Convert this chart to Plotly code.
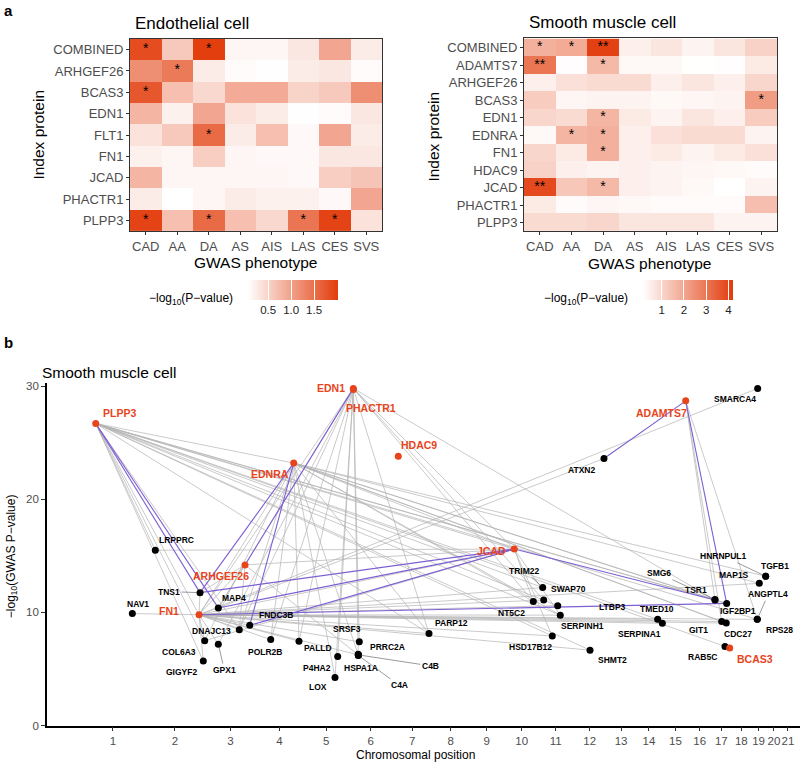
import plotly.graph_objects as go

# ---------------- Panel a data ----------------
phenotypes = ["CAD", "AA", "DA", "AS", "AIS", "LAS", "CES", "SVS"]

ec_proteins = ["COMBINED", "ARHGEF26", "BCAS3", "EDN1", "FLT1", "FN1", "JCAD", "PHACTR1", "PLPP3"]
ec_values = [
    [1.85, 0.60, 2.00, 0.15, 0.15, 0.30, 0.95, 0.25],
    [1.20, 1.40, 0.25, 0.10, 0.07, 0.25, 0.30, 0.10],
    [1.75, 0.70, 0.45, 0.90, 0.90, 0.50, 0.60, 1.20],
    [0.80, 0.20, 0.95, 0.35, 0.25, 0.07, 0.10, 0.30],
    [0.35, 0.60, 1.55, 0.25, 0.70, 0.12, 0.95, 0.25],
    [0.20, 0.15, 0.55, 0.15, 0.12, 0.12, 0.30, 0.30],
    [0.80, 0.15, 0.15, 0.15, 0.15, 0.12, 0.55, 0.65],
    [0.25, 0.06, 0.15, 0.25, 0.20, 0.20, 0.12, 0.95],
    [1.95, 0.70, 1.55, 0.70, 0.45, 1.45, 1.95, 0.35],
]
ec_stars = [
    ["*", "", "*", "", "", "", "", ""],
    ["", "*", "", "", "", "", "", ""],
    ["*", "", "", "", "", "", "", ""],
    ["", "", "", "", "", "", "", ""],
    ["", "", "*", "", "", "", "", ""],
    ["", "", "", "", "", "", "", ""],
    ["", "", "", "", "", "", "", ""],
    ["", "", "", "", "", "", "", ""],
    ["*", "", "*", "", "", "*", "*", ""],
]
ec_ticks = [0.5, 1.0, 1.5]

smc_proteins = ["COMBINED", "ADAMTS7", "ARHGEF26", "BCAS3", "EDN1", "EDNRA", "FN1",
                "HDAC9", "JCAD", "PHACTR1", "PLPP3"]
smc_values = [
    [1.80, 1.90, 4.10, 0.50, 0.70, 0.40, 0.70, 1.10],
    [3.00, 0.20, 1.60, 0.30, 0.30, 0.17, 0.20, 0.60],
    [0.50, 0.80, 0.90, 0.90, 0.50, 0.70, 0.50, 1.00],
    [1.20, 0.35, 0.40, 0.40, 0.30, 0.35, 0.40, 2.20],
    [1.00, 0.90, 1.70, 0.60, 0.40, 0.70, 0.50, 1.20],
    [0.30, 1.70, 1.80, 0.50, 0.80, 0.90, 0.90, 0.40],
    [1.00, 0.60, 1.80, 0.50, 0.60, 0.40, 0.60, 0.80],
    [1.10, 0.50, 0.40, 0.50, 0.40, 0.35, 0.30, 0.25],
    [3.90, 1.30, 1.60, 0.50, 0.40, 0.30, 0.16, 0.40],
    [0.60, 0.25, 0.35, 0.30, 0.25, 0.25, 0.25, 1.50],
    [0.90, 0.90, 1.00, 0.70, 0.70, 0.70, 0.40, 0.40],
]
smc_stars = [
    ["*", "*", "**", "", "", "", "", ""],
    ["**", "", "*", "", "", "", "", ""],
    ["", "", "", "", "", "", "", ""],
    ["", "", "", "", "", "", "", "*"],
    ["", "", "*", "", "", "", "", ""],
    ["", "*", "*", "", "", "", "", ""],
    ["", "", "*", "", "", "", "", ""],
    ["", "", "", "", "", "", "", ""],
    ["**", "", "*", "", "", "", "", ""],
    ["", "", "", "", "", "", "", ""],
    ["", "", "", "", "", "", "", ""],
]
smc_ticks = [1, 2, 3, 4]

# ---------------- Panel b data ----------------
chrom_lengths_mb = [249, 243, 198, 191, 181, 171, 159, 146, 141, 136, 135, 134,
                    115, 107, 103, 90, 81, 78, 59, 63, 48, 51]
chrom_tick_labels = [str(i) for i in range(1, 22)]

gene_names = ["PLPP3", "EDNRA", "EDN1", "PHACTR1", "HDAC9", "ADAMTS7", "JCAD", "ARHGEF26",
              "FN1", "BCAS3", "LRPPRC", "TNS1", "NAV1", "MAP4", "FNDC3B", "DNAJC13",
              "COL6A3", "GPX1", "GIGYF2", "POLR2B", "PALLD", "P4HA2", "LOX", "SRSF3",
              "HSPA1A", "PRRC2A", "C4A", "C4B", "TRIM22", "SWAP70", "NT5C2", "LTBP3",
              "SERPINH1", "PARP12", "HSD17B12", "SHMT2", "TGFB1", "HNRNPUL1", "MAP1S",
              "RPS28", "ANGPTL4", "TSR1", "SMG6", "IGF2BP1", "TMED10", "SERPINA1", "GIT1",
              "CDC27", "RAB5C", "ATXN2", "SMARCA4"]
gene_chrom = [1, 4, 6, 6, 7, 15, 10, 3,
              2, 17, 2, 2, 1, 3, 3, 3,
              2, 3, 2, 4, 4, 5, 5, 6,
              6, 6, 6, 6, 11, 11, 10, 11,
              11, 7, 11, 12, 19, 19, 19,
              19, 19, 17, 17, 17, 14, 14, 17,
              17, 17, 12, 19]
gene_pos_mb = [56.0, 152.0, 16.6, 17.2, 24.2, 92.2, 38.7, 156.7,
               217.1, 73.9, 43.6, 221.0, 201.3, 50.7, 175.3, 134.0,
               239.7, 50.7, 234.1, 60.7, 173.0, 135.7, 125.0, 40.4,
               36.4, 36.2, 36.6, 36.7, 15.5, 19.5, 114.2, 75.1,
               85.4, 146.1, 53.6, 68.3, 57.8, 57.5, 32.4,
               24.4, 24.2, 15.5, 15.2, 61.9, 88.0, 106.5, 42.1,
               60.3, 55.2, 123.8, 26.0]
gene_log10p = [26.7, 23.2, 29.8, 29.7, 23.8, 28.7, 15.6, 14.2,
               9.8, 6.85, 15.5, 11.75, 9.9, 10.4, 8.86, 8.48,
               7.5, 7.2, 5.7, 7.6, 7.46, 6.1, 4.24, 7.4,
               6.25, 6.3, 6.2, 6.25, 12.2, 11.1, 10.96, 10.6,
               9.76, 8.13, 7.92, 6.67, 13.2, 13.2, 12.57,
               9.39, 9.4, 11.1, 11.15, 10.8, 9.39, 9.04, 9.2,
               9.06, 7.0, 23.6, 29.8]
index_proteins = ["PLPP3", "EDNRA", "EDN1", "PHACTR1", "HDAC9", "ADAMTS7", "JCAD",
                  "ARHGEF26", "FN1", "BCAS3"]

edge_from = ["PLPP3"] * 18 + ["EDN1"] * 15 + ["EDNRA"] * 17 + ["ADAMTS7"] * 3 + \
            ["SMARCA4", "ATXN2"] + ["JCAD"] * 7 + ["FN1"] * 25 + ["ARHGEF26"] * 5
edge_to = [
    "EDNRA", "JCAD", "TRIM22", "LTBP3", "SERPINH1", "HSD17B12", "SHMT2", "PARP12", "TSR1",
    "IGF2BP1", "RPS28", "TMED10", "RAB5C", "FN1", "COL6A3", "GIGYF2", "DNAJC13", "LRPPRC",
    "FN1", "MAP4", "DNAJC13", "POLR2B", "PALLD", "P4HA2", "SRSF3", "HSPA1A", "LOX", "PARP12",
    "JCAD", "TSR1", "SWAP70", "NT5C2", "GPX1",
    "JCAD", "TSR1", "IGF2BP1", "TGFB1", "MAP1S", "CDC27", "GIT1", "NT5C2", "PARP12",
    "SERPINH1", "FN1", "DNAJC13", "POLR2B", "PALLD", "LOX", "HSPA1A", "COL6A3",
    "TSR1", "GIT1", "RPS28",
    "FN1", "MAP4",
    "LRPPRC", "FN1", "COL6A3", "ARHGEF26", "SERPINH1", "HSD17B12", "NT5C2",
    "NAV1", "TNS1", "MAP4", "FNDC3B", "DNAJC13", "COL6A3", "GPX1", "GIGYF2", "POLR2B",
    "PALLD", "SRSF3", "HSPA1A", "PARP12", "HSD17B12", "LTBP3", "SERPINH1", "TMED10",
    "SERPINA1", "GIT1", "CDC27", "RPS28", "SHMT2", "MAP1S", "TRIM22", "SWAP70",
    "FN1", "MAP4", "DNAJC13", "TNS1", "HSPA1A",
]
link_from = ["PLPP3", "PLPP3", "EDNRA", "EDNRA", "EDN1", "TNS1", "MAP4", "FNDC3B",
             "FN1", "JCAD", "ADAMTS7", "ADAMTS7"]
link_to = ["TNS1", "MAP4", "TNS1", "FNDC3B", "ARHGEF26", "JCAD", "JCAD", "JCAD",
           "IGF2BP1", "TSR1", "ATXN2", "IGF2BP1"]

# ---------------- label placement (pixel offsets, style only) ----------------
label_offset = {
    "PLPP3": (24, -10), "EDNRA": (-24, 11), "EDN1": (-22, 0), "PHACTR1": (18, 18),
    "HDAC9": (21, -11), "ADAMTS7": (-24, 12), "JCAD": (-23, 2), "ARHGEF26": (-24, 11),
    "FN1": (-30, -4), "BCAS3": (25, 11), "LRPPRC": (21, -10), "TNS1": (-31, -1),
    "NAV1": (6, -10), "MAP4": (16, -10), "FNDC3B": (26, -10), "DNAJC13": (-28, 1),
    "COL6A3": (-26, 11), "GPX1": (6, 26), "GIGYF2": (-22, 11), "POLR2B": (-6, 12),
    "PALLD": (19, 7), "P4HA2": (-21, 11), "LOX": (-17, 9), "SRSF3": (-12, -13),
    "HSPA1A": (3, 13), "PRRC2A": (29, -7), "C4A": (41, 30), "C4B": (72, 11),
    "TRIM22": (-18, -17), "SWAP70": (25, -11), "NT5C2": (-22, 11), "LTBP3": (55, 1),
    "SERPINH1": (22, 11), "PARP12": (23, -11), "HSD17B12": (-22, 11), "SHMT2": (22, 10),
    "TGFB1": (9, -10), "HNRNPUL1": (-42, -20), "MAP1S": (-25, -8), "RPS28": (22, 11),
    "ANGPTL4": (11, -25), "TSR1": (-19, -10), "SMG6": (-56, -26), "IGF2BP1": (11, 8),
    "TMED10": (-1, -10), "SERPINA1": (-23, 11), "GIT1": (-23, 8), "CDC27": (12, 11),
    "RAB5C": (-22, 11), "ATXN2": (-22, 11), "SMARCA4": (-23, 11),
}
leader_labels = {"TNS1", "GPX1", "C4A", "C4B", "TRIM22", "HNRNPUL1", "ANGPTL4", "SMG6"}

RED = "#e8441c"
FONT = "Liberation Sans, Arial, Helvetica, sans-serif"
W, H = 800, 763
H_EFF = 756.5  # observed effective vertical extent of the rendered paper


def px_x(p):
    return p / W


def px_y(p):
    return 1 - p / H_EFF


fig = go.Figure()

# ---------------- heatmaps ----------------
def add_heatmap(values, proteins, stars, zmin, zmax, ticks, xa, ya, cbx):
    fig.add_trace(go.Heatmap(
        z=values, x=phenotypes, y=proteins, xaxis=xa, yaxis=ya,
        zmin=zmin, zmax=zmax,
        colorscale=[[0, "#ffffff"], [1, "#e23c0c"]],
        hoverinfo="skip",
        colorbar=dict(orientation="h", x=cbx, xanchor="center", y=px_y(278),
                      yanchor="top", len=90, lenmode="pixels", thickness=20,
                      thicknessmode="pixels", outlinewidth=0, xpad=0, ypad=0,
                      tickvals=ticks, ticktext=[str(t) for t in ticks],
                      ticks="inside", ticklen=20, tickwidth=1, tickcolor="white",
                      tickfont=dict(family=FONT, size=11.5, color="#222222")),
    ))
    sx, sy, st = [], [], []
    for i, p in enumerate(proteins):
        for j, ph in enumerate(phenotypes):
            if stars[i][j]:
                sx.append(ph)
                sy.append(p)
                st.append(stars[i][j])
    fig.add_trace(go.Scatter(x=sx, y=sy, text=st, mode="text", xaxis=xa, yaxis=ya,
                             textfont=dict(family=FONT, size=14, color="black"),
                             hoverinfo="skip"))


add_heatmap(ec_values, ec_proteins, ec_stars, 0.06, 2.02, ec_ticks, "x", "y", px_x(293))
add_heatmap(smc_values, smc_proteins, smc_stars, 0.16, 4.2, smc_ticks, "x2", "y2", px_x(688))

# ---------------- network ----------------
chrom_start = []
acc = 0
for L in chrom_lengths_mb:
    chrom_start.append(acc)
    acc += L
chrom_mid = [s + L / 2 for s, L in zip(chrom_start, chrom_lengths_mb)][:21]

gx = {n: chrom_start[c - 1] + p for n, c, p in zip(gene_names, gene_chrom, gene_pos_mb)}
gy = dict(zip(gene_names, gene_log10p))


def edge_xy(a_list, b_list):
    xs, ys = [], []
    for a, b in zip(a_list, b_list):
        xs += [gx[a], gx[b], None]
        ys += [gy[a], gy[b], None]
    return xs, ys


ex, ey = edge_xy(edge_from, edge_to)
fig.add_trace(go.Scatter(x=ex, y=ey, mode="lines", xaxis="x3", yaxis="y3",
                         line=dict(color="rgba(180,180,180,0.7)", width=1), hoverinfo="skip"))
lx, ly = edge_xy(link_from, link_to)
fig.add_trace(go.Scatter(x=lx, y=ly, mode="lines", xaxis="x3", yaxis="y3",
                         line=dict(color="#7d5fd3", width=1.1), hoverinfo="skip"))

others = [n for n in gene_names if n not in index_proteins]
fig.add_trace(go.Scatter(x=[gx[n] for n in others], y=[gy[n] for n in others],
                         mode="markers", xaxis="x3", yaxis="y3",
                         marker=dict(color="black", size=7), hoverinfo="skip"))
fig.add_trace(go.Scatter(x=[gx[n] for n in index_proteins], y=[gy[n] for n in index_proteins],
                         mode="markers", xaxis="x3", yaxis="y3",
                         marker=dict(color=RED, size=7), hoverinfo="skip"))

annotations = []
for n in gene_names:
    dx, dy = label_offset[n]
    is_idx = n in index_proteins
    font = dict(family=FONT, size=10.5 if is_idx else 8.5,
                color=RED if is_idx else "black", weight="bold")
    if n in leader_labels:
        annotations.append(dict(x=gx[n], y=gy[n], xref="x3", yref="y3", text=n,
                                showarrow=True, ax=dx, ay=dy, arrowhead=0,
                                arrowwidth=0.6, arrowcolor="#555555", standoff=3,
                                font=font))
    else:
        annotations.append(dict(x=gx[n], y=gy[n], xref="x3", yref="y3", text=n,
                                showarrow=False, xshift=dx, yshift=-dy, font=font))


def txt(x, y, s, size, color="black", angle=0, xanchor="center", bold=False):
    annotations.append(dict(x=px_x(x), y=px_y(y), xref="paper", yref="paper", text=s,
                            showarrow=False, textangle=angle, xanchor=xanchor,
                            yanchor="middle",
                            font=dict(family=FONT, size=size, color=color,
                                      weight="bold" if bold else "normal")))


txt(2, 8, "a", 15, bold=True, xanchor="left")
txt(2, 341, "b", 15, bold=True, xanchor="left")
txt(133, 21, "Endothelial cell", 17, xanchor="left")
txt(527, 20, "Smooth muscle cell", 17, xanchor="left")
txt(40, 371, "Smooth muscle cell", 15.5, xanchor="left")
txt(39, 132, "Index protein", 15.5, angle=-90)
txt(434, 134, "Index protein", 15.5, angle=-90)
txt(256, 260, "GWAS phenotype", 15.5)
txt(650, 261, "GWAS phenotype", 15.5)
txt(191, 297, "−log<sub>10</sub>(P−value)", 12)
txt(586, 297, "−log<sub>10</sub>(P−value)", 12)
txt(415, 754, "Chromosomal position", 12)
txt(12, 555, "−log<sub>10</sub>(GWAS P−value)", 12, angle=-90)

hm_x = dict(showline=True, mirror=True, linecolor="#333333", linewidth=1, ticks="outside",
            ticklen=3, tickcolor="#333333", tickfont=dict(family=FONT, size=13, color="#4d4d4d"),
            showgrid=False, zeroline=False, fixedrange=True)
hm_y = dict(hm_x, autorange="reversed")

layout = dict(
    width=W, height=H, margin=dict(l=0, r=0, t=0, b=0),
    paper_bgcolor="white", plot_bgcolor="white", showlegend=False,
    xaxis=dict(hm_x, domain=[px_x(130), px_x(382)], anchor="y"),
    yaxis=dict(hm_y, domain=[px_y(229), px_y(36)], anchor="x"),
    xaxis2=dict(hm_x, domain=[px_x(524), px_x(777)], anchor="y2"),
    yaxis2=dict(hm_y, domain=[px_y(229), px_y(35)], anchor="x2"),
    xaxis3=dict(domain=[px_x(47), 1.0], anchor="y3", range=[-137.4, 2852],
                showline=True, linecolor="black", linewidth=1.6, ticks="outside",
                ticklen=4, tickcolor="#333333", tickvals=chrom_mid, tickangle=0,
                ticktext=chrom_tick_labels, showgrid=False, zeroline=False,
                tickfont=dict(family=FONT, size=11.5, color="#4d4d4d")),
    yaxis3=dict(domain=[px_y(725), px_y(381)], anchor="x3", range=[0, 30.3],
                showline=True, linecolor="black", linewidth=1.6, ticks="outside",
                ticklen=4, tickcolor="#333333", tickvals=[0, 10, 20, 30],
                showgrid=False, zeroline=False,
                tickfont=dict(family=FONT, size=11.5, color="#4d4d4d")),
    annotations=annotations,
)
fig.update_layout(**layout)
fig.write_html(
    "out.html",
    config={"displayModeBar": False},
    post_script=(
        "document.documentElement.style.margin='0px';"
        "document.documentElement.style.overflow='hidden';"
        "document.body.style.margin='0px';document.body.style.padding='0px';"
        "document.body.style.overflow='hidden';"
        "document.body.style.height='763px';"
    ),
)
